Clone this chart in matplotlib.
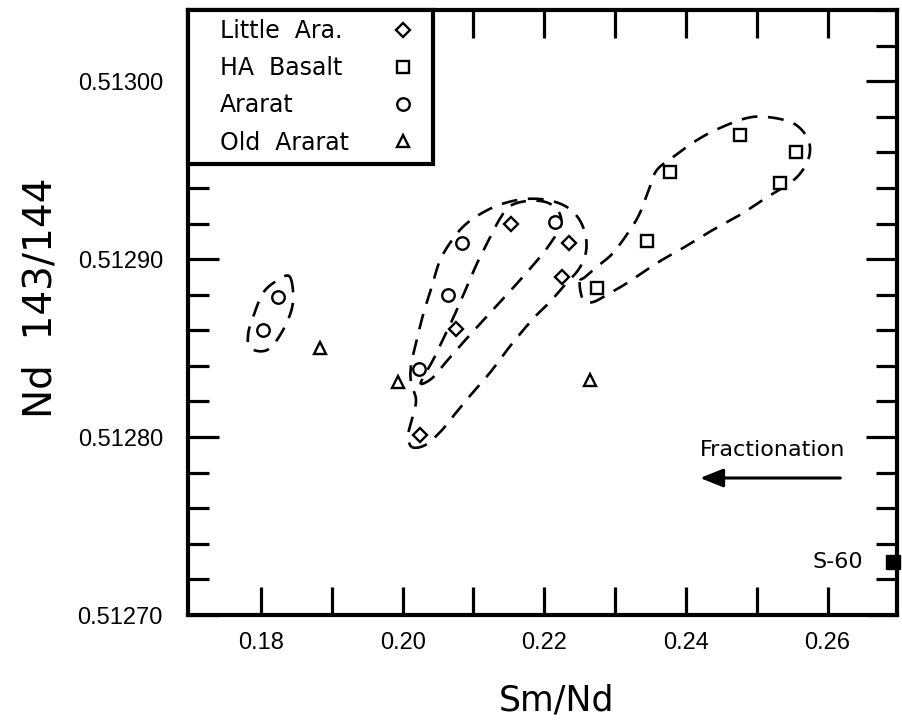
import numpy as np
import matplotlib
matplotlib.use("Agg")
import matplotlib.pyplot as plt
from matplotlib.lines import Line2D

# Sm/Nd vs 143Nd/144Nd for the four volcanic groups
little_ara_x = [0.2153, 0.2235, 0.2075, 0.2225, 0.2024]
little_ara_y = [0.512920, 0.512909, 0.512861, 0.512890, 0.512801]

ha_basalt_x = [0.2274, 0.2345, 0.2378, 0.2476, 0.2556, 0.2533]
ha_basalt_y = [0.512884, 0.512910, 0.512949, 0.512970, 0.512960, 0.512943]

ararat_x = [0.1824, 0.1803, 0.2084, 0.2215, 0.2064, 0.2023]
ararat_y = [0.512879, 0.512860, 0.512909, 0.512921, 0.512880, 0.512838]

old_ararat_x = [0.1883, 0.1994, 0.2265]
old_ararat_y = [0.512850, 0.512831, 0.512832]

s60_x = [0.2692]
s60_y = [0.512730]

# hand-drawn field outlines (closed, smoothed below)
field_left_x = [0.1841, 0.1845, 0.1831, 0.1809, 0.1785, 0.1782, 0.1789, 0.1803, 0.1823]
field_left_y = [0.512890, 0.512875, 0.512860, 0.512849, 0.512850, 0.512858, 0.5128675, 0.512881, 0.512888]

field_outer_x = [0.2013, 0.2032, 0.2053, 0.2067, 0.2095, 0.2123, 0.2152, 0.2184, 0.2208, 0.2229,
                 0.2248, 0.2258, 0.2259, 0.2250, 0.2232, 0.2205, 0.2173, 0.2140, 0.2112, 0.2088,
                 0.2070, 0.2053, 0.2042, 0.2030, 0.2020, 0.2012, 0.2012, 0.2019, 0.2013, 0.2008]
field_outer_y = [0.5127944, 0.5127955, 0.5128028, 0.5128096, 0.5128231, 0.5128360, 0.5128512, 0.5128664,
                 0.5128759, 0.5128855, 0.5128939, 0.5129023, 0.5129119, 0.5129220, 0.5129293, 0.5129332,
                 0.5129338, 0.5129310, 0.5129259, 0.5129192, 0.5129108, 0.5128995, 0.5128855, 0.5128703,
                 0.5128546, 0.5128405, 0.5128304, 0.5128208, 0.5128096, 0.5128012]

field_inner_x = [0.2026, 0.2042, 0.2060, 0.2095, 0.2130, 0.2166, 0.2194, 0.2212, 0.2224, 0.2219,
                 0.2202, 0.2176, 0.2152, 0.2138, 0.2123, 0.2106, 0.2090, 0.2074, 0.2058, 0.2043, 0.2030]
field_inner_y = [0.5128298, 0.5128332, 0.5128416, 0.5128574, 0.5128725, 0.5128883, 0.5129012, 0.5129108,
                 0.5129197, 0.5129276, 0.5129321, 0.5129327, 0.5129299, 0.5129231, 0.5129119, 0.5128984,
                 0.5128838, 0.5128692, 0.5128557, 0.5128433, 0.5128343]

field_basalt_x = [0.2250, 0.2255, 0.2269, 0.2293, 0.2317, 0.2359, 0.2396, 0.2438, 0.2476, 0.2515,
                  0.2547, 0.2565, 0.2575, 0.2571, 0.2551, 0.2515, 0.2486, 0.2448, 0.2416, 0.2382,
                  0.2359, 0.2349, 0.2335, 0.2321, 0.2297, 0.2274, 0.2258]
field_basalt_y = [0.5128871, 0.5128770, 0.5128759, 0.5128810, 0.5128866, 0.5128978, 0.5129063, 0.5129164,
                  0.5129248, 0.5129349, 0.5129428, 0.5129501, 0.5129596, 0.5129686, 0.5129765, 0.5129799,
                  0.5129793, 0.5129737, 0.5129670, 0.5129574, 0.5129501, 0.5129405, 0.5129259, 0.5129164,
                  0.5129034, 0.5128956, 0.5128900]

labels = ["Little  Ara.", "HA  Basalt", "Ararat", "Old  Ararat"]


def smooth_closed(xs, ys, n=16):
    # periodic Catmull-Rom through the outline points
    p = np.column_stack([xs, ys])
    m = len(p)
    t = np.linspace(0, 1, n, endpoint=False)[:, None]
    segs = []
    for i in range(m):
        p0, p1, p2, p3 = p[i - 1], p[i], p[(i + 1) % m], p[(i + 2) % m]
        segs.append(0.5 * (2 * p1 + (-p0 + p2) * t
                           + (2 * p0 - 5 * p1 + 4 * p2 - p3) * t ** 2
                           + (-p0 + 3 * p1 - 3 * p2 + p3) * t ** 3))
    segs.append(p[:1])
    out = np.vstack(segs)
    return out[:, 0], out[:, 1]


fig = plt.figure(figsize=(9.02, 7.28), dpi=100)
ax = fig.add_axes([0.2084, 0.1552, 0.786, 0.831])

dash = (0, (6, 4))
for fx, fy in [(field_left_x, field_left_y), (field_outer_x, field_outer_y),
               (field_inner_x, field_inner_y), (field_basalt_x, field_basalt_y)]:
    sx, sy = smooth_closed(fx, fy)
    ax.plot(sx, sy, color="black", lw=1.9, linestyle=dash)

mk = dict(linestyle="none", mfc="white", mec="black", mew=1.7, zorder=4)
h_la, = ax.plot(little_ara_x, little_ara_y, marker="D", ms=7.5, **mk)
h_ha, = ax.plot(ha_basalt_x, ha_basalt_y, marker="s", ms=8.5, **mk)
h_ar, = ax.plot(ararat_x, ararat_y, marker="o", ms=9, **mk)
h_old, = ax.plot(old_ararat_x, old_ararat_y, marker="^", ms=9, **mk)
ax.plot(s60_x, s60_y, marker="s", ms=10, color="black", linestyle="none", clip_on=False, zorder=5)
ax.text(0.2650, s60_y[0], "S-60", ha="right", va="center", fontsize=16)

# fractionation arrow
ax.annotate("", xy=(0.2420, 0.512777), xytext=(0.2618, 0.512777),
            arrowprops=dict(arrowstyle="-|>,head_length=0.7,head_width=0.28",
                            lw=2.2, color="black", shrinkA=0, shrinkB=0, mutation_scale=20))
ax.text(0.2522, 0.5127927, "Fractionation", ha="center", va="center", fontsize=16)

ax.set_xlim(0.1697, 0.2698)
ax.set_ylim(0.51270, 0.51304)

ax.set_xticks(np.arange(0.18, 0.2601, 0.02))
ax.set_xticks([0.19, 0.21, 0.23, 0.25], minor=True)
ax.set_yticks(np.arange(0.51270, 0.513001, 0.0001))
ax.set_yticks(np.arange(0.51270, 0.51304, 0.00002), minor=True)
ax.xaxis.set_major_formatter(matplotlib.ticker.FormatStrFormatter("%.2f"))
ax.yaxis.set_major_formatter(matplotlib.ticker.FormatStrFormatter("%.5f"))

ax.tick_params(axis="x", which="both", direction="in", top=True, bottom=True,
               length=20, width=2.3, pad=12, labelsize=15)
ax.tick_params(axis="y", which="major", direction="in", left=True, right=True,
               length=22, width=2.3, pad=18, labelsize=15)
ax.tick_params(axis="y", which="minor", direction="in", left=True, right=True,
               length=15, width=2.3)
for lab in ax.get_xticklabels() + ax.get_yticklabels():
    lab.set_family("Liberation Sans")
    lab.set_fontsize(17)

for sp in ax.spines.values():
    sp.set_linewidth(3)

ax.set_xlabel("Sm/Nd", fontsize=25)
ax.set_ylabel("Nd  143/144", fontsize=28)
ax.xaxis.set_label_coords(0.5204, -0.113)
ax.yaxis.set_label_coords(-0.181, 0.524)

# legend: text column in a framed box, markers aligned in a second column
proxies = [Line2D([], [], linestyle="none") for _ in labels]
leg1 = ax.legend(proxies, labels, loc="upper left", bbox_to_anchor=(0, 0, 0.3456, 1.0),
                 mode="expand", borderaxespad=0, fontsize=17, handlelength=0,
                 handletextpad=0.96, borderpad=0.39, labelspacing=0.555,
                 fancybox=False, framealpha=1, edgecolor="black")
leg1.get_frame().set_linewidth(3)
ax.add_artist(leg1)
leg2 = ax.legend([h_la, h_ha, h_ar, h_old], [" "] * 4, loc="upper left",
                 bbox_to_anchor=(0.274, 1.0), borderaxespad=0, fontsize=17,
                 handlelength=1.0, handletextpad=0, borderpad=0.39, labelspacing=0.555,
                 frameon=False, numpoints=1)
leg2.set_zorder(6)

fig.savefig("out.png", dpi=100)
